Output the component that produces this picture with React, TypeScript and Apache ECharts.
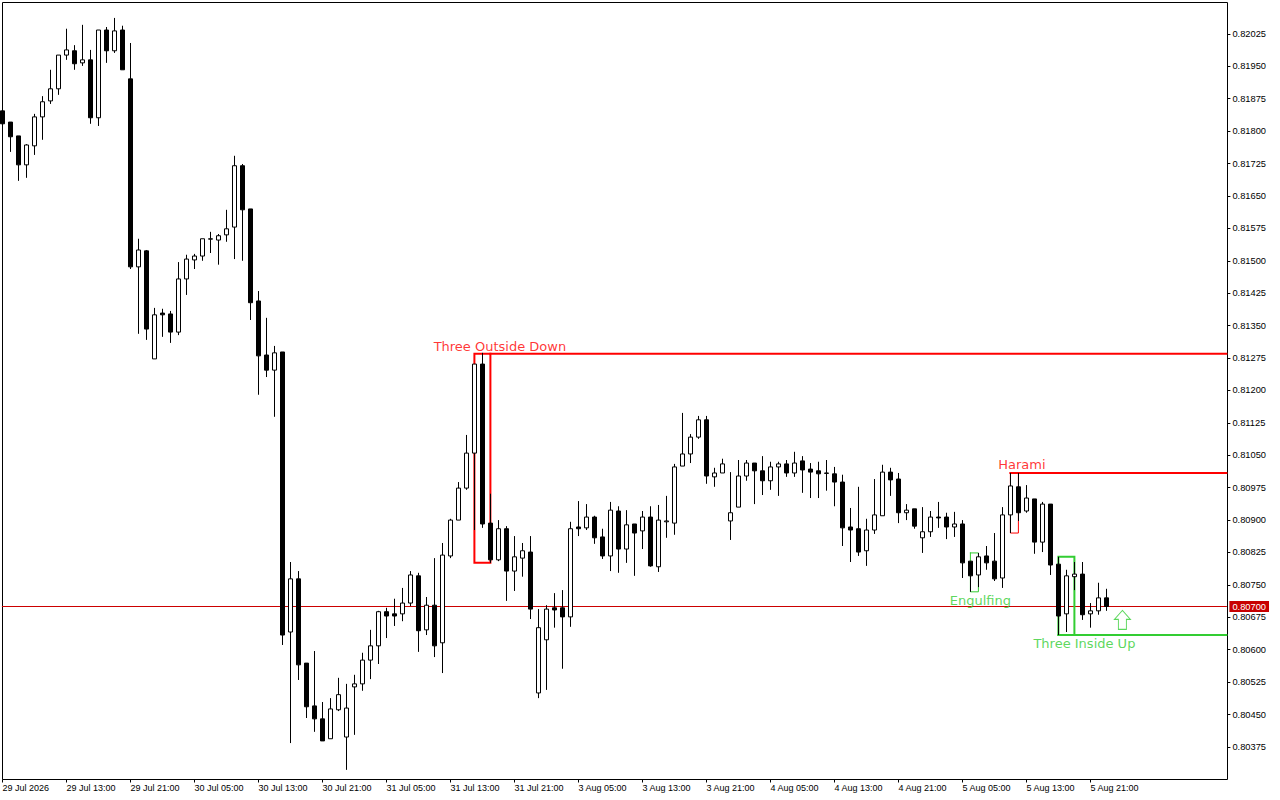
import React, { useEffect, useRef } from "react";
import * as echarts from "echarts";

const tickLabelsX = ["29 Jul 2026","29 Jul 13:00","29 Jul 21:00","30 Jul 05:00","30 Jul 13:00","30 Jul 21:00","31 Jul 05:00","31 Jul 13:00","31 Jul 21:00","3 Aug 05:00","3 Aug 13:00","3 Aug 21:00","4 Aug 05:00","4 Aug 13:00","4 Aug 21:00","5 Aug 05:00","5 Aug 13:00","5 Aug 21:00"];
const tickValuesY = [0.80375,0.8045,0.80525,0.806,0.80675,0.8075,0.80825,0.809,0.80975,0.8105,0.81125,0.812,0.81275,0.8135,0.81425,0.815,0.81575,0.8165,0.81725,0.818,0.81875,0.8195,0.82025];

const opens = [0.81847,0.81821,0.81789,0.81722,0.81766,0.81833,0.81870,0.81898,0.81976,0.81986,0.81958,0.81965,0.81831,0.82034,0.81986,0.82034,0.81921,0.81486,0.81523,0.81273,0.81379,0.81377,0.81335,0.81458,0.81502,0.81511,0.81550,0.81548,0.81560,0.81578,0.81720,0.81620,0.81407,0.81282,0.81247,0.81289,0.80641,0.80764,0.80569,0.80470,0.80440,0.80394,0.80461,0.80398,0.80514,0.80521,0.80576,0.80609,0.80688,0.80683,0.80683,0.80708,0.80771,0.80646,0.80703,0.80616,0.80817,0.80900,0.80974,0.81055,0.81261,0.80893,0.80808,0.80880,0.80782,0.80812,0.80826,0.80500,0.80623,0.80697,0.80697,0.80676,0.80884,0.80882,0.80907,0.80861,0.80817,0.80921,0.80833,0.80891,0.80875,0.80907,0.80792,0.80896,0.80893,0.81025,0.81053,0.81092,0.81132,0.81000,0.81009,0.80898,0.80930,0.81002,0.81032,0.81014,0.80991,0.81023,0.81030,0.81009,0.81037,0.81018,0.81014,0.81008,0.81007,0.80988,0.80884,0.80880,0.80829,0.80877,0.80910,0.81011,0.80995,0.80917,0.80926,0.80859,0.80873,0.80907,0.80907,0.80884,0.80891,0.80805,0.80773,0.80817,0.80805,0.80766,0.80912,0.80977,0.80921,0.80949,0.80849,0.80937,0.80798,0.80683,0.80769,0.80775,0.80683,0.80690,0.80720];
const highs = [0.81847,0.81821,0.81789,0.81770,0.81840,0.81881,0.81942,0.81976,0.82037,0.81999,0.82046,0.81988,0.82034,0.82041,0.82062,0.82044,0.82004,0.81551,0.81525,0.81391,0.81389,0.81384,0.81497,0.81514,0.81516,0.81551,0.81567,0.81562,0.81618,0.81743,0.81724,0.81620,0.81430,0.81368,0.81303,0.81289,0.80803,0.80782,0.80569,0.80597,0.80479,0.80488,0.80535,0.80521,0.80542,0.80593,0.80646,0.80690,0.80697,0.80718,0.80743,0.80782,0.80778,0.80722,0.80812,0.80847,0.80903,0.80988,0.81097,0.81261,0.81287,0.80961,0.80900,0.80886,0.80863,0.80847,0.80863,0.80694,0.80703,0.80731,0.80738,0.80896,0.80944,0.80937,0.80910,0.80880,0.80942,0.80932,0.80923,0.80891,0.80921,0.80932,0.80935,0.80956,0.81030,0.81148,0.81099,0.81141,0.81141,0.81021,0.81042,0.81011,0.81039,0.81039,0.81032,0.81048,0.81035,0.81035,0.81039,0.81058,0.81048,0.81032,0.81035,0.81039,0.81023,0.81005,0.80928,0.80977,0.80903,0.80995,0.81028,0.81021,0.81009,0.80937,0.80926,0.80930,0.80921,0.80942,0.80917,0.80919,0.80900,0.80805,0.80824,0.80840,0.80870,0.80930,0.81009,0.81009,0.80981,0.80949,0.80942,0.80937,0.80815,0.80785,0.80803,0.80803,0.80708,0.80755,0.80741];
const lows = [0.81817,0.81752,0.81685,0.81692,0.81745,0.81780,0.81863,0.81884,0.81965,0.81942,0.81951,0.81817,0.81812,0.81958,0.81981,0.81942,0.81481,0.81331,0.81317,0.81273,0.81324,0.81310,0.81328,0.81421,0.81481,0.81500,0.81518,0.81491,0.81544,0.81504,0.81500,0.81363,0.81190,0.81231,0.81139,0.80611,0.80384,0.80530,0.80442,0.80410,0.80389,0.80394,0.80458,0.80322,0.80403,0.80505,0.80532,0.80567,0.80627,0.80655,0.80666,0.80701,0.80595,0.80634,0.80583,0.80546,0.80812,0.80900,0.80970,0.80877,0.80882,0.80801,0.80805,0.80713,0.80736,0.80769,0.80671,0.80488,0.80507,0.80651,0.80556,0.80653,0.80863,0.80877,0.80845,0.80810,0.80782,0.80778,0.80801,0.80771,0.80833,0.80792,0.80780,0.80859,0.80866,0.81025,0.81032,0.81088,0.80984,0.80977,0.81009,0.80854,0.80930,0.80991,0.80937,0.80958,0.80970,0.80956,0.81000,0.81000,0.80963,0.80951,0.80951,0.80968,0.80932,0.80840,0.80803,0.80817,0.80794,0.80868,0.80910,0.80956,0.80893,0.80900,0.80880,0.80824,0.80861,0.80882,0.80856,0.80861,0.80766,0.80734,0.80745,0.80785,0.80759,0.80743,0.80870,0.80898,0.80917,0.80822,0.80826,0.80773,0.80634,0.80641,0.80738,0.80669,0.80651,0.80681,0.80690];
const closes = [0.81817,0.81787,0.81722,0.81768,0.81833,0.81868,0.81898,0.81976,0.81988,0.81956,0.81965,0.81831,0.82034,0.81986,0.82032,0.81942,0.81486,0.81525,0.81342,0.81375,0.81375,0.81335,0.81458,0.81504,0.81511,0.81551,0.81551,0.81558,0.81574,0.81720,0.81618,0.81403,0.81280,0.81247,0.81287,0.80634,0.80764,0.80565,0.80468,0.80440,0.80389,0.80463,0.80496,0.80465,0.80521,0.80576,0.80609,0.80688,0.80678,0.80678,0.80708,0.80773,0.80644,0.80703,0.80609,0.80819,0.80900,0.80974,0.81055,0.81261,0.80891,0.80808,0.80880,0.80782,0.80815,0.80829,0.80694,0.80651,0.80694,0.80692,0.80676,0.80880,0.80880,0.80907,0.80859,0.80817,0.80923,0.80833,0.80889,0.80870,0.80907,0.80794,0.80900,0.80898,0.81023,0.81053,0.81092,0.81132,0.81002,0.81009,0.81030,0.80917,0.81002,0.81032,0.81014,0.80991,0.81023,0.81030,0.81009,0.81032,0.81016,0.81011,0.81007,0.81009,0.80988,0.80882,0.80877,0.80826,0.80877,0.80912,0.81011,0.80993,0.80917,0.80923,0.80886,0.80873,0.80907,0.80905,0.80884,0.80891,0.80801,0.80771,0.80815,0.80801,0.80764,0.80912,0.80979,0.80917,0.80951,0.80849,0.80937,0.80796,0.80678,0.80771,0.80775,0.80681,0.80690,0.80720,0.80700];

const barCount = 154;
const lastPrice = 0.807;
const RED = "#ff0000";
const GREEN = "#32cd32";

const categories = Array.from({ length: barCount }, (_, i) =>
  i % 8 === 0 && tickLabelsX[i / 8] ? tickLabelsX[i / 8] : `bar ${i}`
);
const tickIndexesX = tickLabelsX.map((_, i) => i * 8);

// pattern outlines: [bar index, price]
const threeOutsideBox = [[59,0.81285],[59,0.80801],[61,0.80801],[61,0.81285],[59,0.81285]];
const threeOutsideLine = [[61,0.81285],[153,0.81285]];
const haramiBox = [[126,0.81009],[126,0.80870],[127,0.80870],[127,0.81009],[126,0.81009]];
const haramiLine = [[126,0.81009],[153,0.81009]];
const engulfingBox = [[121,0.80824],[121,0.80734],[122,0.80734],[122,0.80824],[121,0.80824]];
const threeInsideBox = [[132,0.80815],[132,0.80634],[134,0.80634],[134,0.80815],[132,0.80815]];
const threeInsideLine = [[132,0.80634],[153,0.80634]];
const priceLine = [[0,lastPrice],[153,lastPrice]];
const arrowPoint = [[140,0.80669]];

const patternLabels = [
  { name: "Three Outside Down", at: [62,0.81301], color: RED, dx: 1.5 },
  { name: "Harami", at: [127,0.81028], color: RED, dx: 3.5 },
  { name: "Engulfing", at: [122,0.80715], color: GREEN, dx: 2 },
  { name: "Three Inside Up", at: [135,0.80615], color: GREEN, dx: 2 },
];

const lineSeries = (data: number[][], color: string, width: number) => ({
  type: "line",
  data,
  z: 1,
  silent: true,
  showSymbol: false,
  symbol: "none",
  clip: false,
  animation: false,
  lineStyle: { color, width, join: "miter", cap: "square" },
});

export default function App() {
  const ref = useRef<HTMLDivElement>(null);
  useEffect(() => {
    document.body.style.margin = "0";
    document.body.style.background = "#fff";
    const chart = echarts.init(ref.current!, undefined, { renderer: "svg" });
    const font = "'Liberation Sans', Arial, sans-serif";
    chart.setOption({
      animation: false,
      backgroundColor: "#fff",
      grid: { left: 2.4, top: 2.5, right: 53.6, bottom: 20.5, show: false, outerBoundsMode: "none" },
      graphic: [
        {
          type: "rect",
          z: 0,
          silent: true,
          shape: { x: 2.5, y: 2.5, width: 1225, height: 777 },
          style: { fill: "none", stroke: "#000", lineWidth: 1 },
        },
      ],
      xAxis: {
        type: "category",
        data: categories,
        boundaryGap: false,
        axisLine: { show: false },
        axisTick: { show: true, length: 3, customValues: tickIndexesX, lineStyle: { color: "#000" } },
        axisLabel: { customValues: tickIndexesX, align: "left", margin: 4, fontSize: 9, fontFamily: font, color: "#000", hideOverlap: false },
        splitLine: { show: false },
      },
      yAxis: {
        type: "value",
        position: "right",
        min: 0.802997,
        max: 0.820977,
        scale: true,
        offset: 1,
        axisLine: { show: false },
        axisTick: { show: true, length: 3, customValues: tickValuesY, lineStyle: { color: "#000" } },
        axisLabel: {
          customValues: tickValuesY, margin: 5, fontSize: 9.3, fontFamily: font, color: "#000",
          formatter: (v: number) => v.toFixed(5),
        },
        splitLine: { show: false },
      },
      series: [
        {
          ...lineSeries(priceLine, "#cc0000", 1),
          endLabel: {
            show: true,
            formatter: () => lastPrice.toFixed(5),
            backgroundColor: "#c80000",
            color: "#fff",
            fontSize: 9.3,
            fontFamily: font,
            padding: [1, 3, 1, 3],
            distance: 3,
          },
        },
        lineSeries(threeOutsideBox, RED, 2),
        lineSeries(threeOutsideLine, RED, 2),
        lineSeries(haramiBox, RED, 1),
        lineSeries(haramiLine, RED, 2),
        lineSeries(engulfingBox, GREEN, 1),
        lineSeries(threeInsideBox, GREEN, 2),
        lineSeries(threeInsideLine, GREEN, 2),
        {
          type: "candlestick",
          z: 2,
          barWidth: 4,
          data: opens.map((o, i) => [o, closes[i], lows[i], highs[i]]),
          itemStyle: {
            color: "#fff", color0: "#000", borderColor: "#000", borderColor0: "#000", borderColorDoji: "#000", borderWidth: 1,
          },
        },
        ...patternLabels.map((p) => ({
          type: "scatter",
          z: 3,
          silent: true,
          symbolSize: 1,
          itemStyle: { color: "transparent" },
          data: [p.at],
          label: {
            show: true, position: "inside", align: "center", verticalAlign: "middle",
            offset: [p.dx, 0],
            formatter: () => p.name, color: p.color, fontSize: 13, fontFamily: "'DejaVu Sans', sans-serif",
          },
        })),
        {
          type: "scatter",
          z: 3,
          silent: true,
          data: arrowPoint,
          symbol: "path://M8 0L16 9H12V19H4V9H0Z",
          symbolSize: [16, 19],
          itemStyle: { color: "#fff", borderColor: GREEN, borderWidth: 1 },
        },
      ],
    });
    return () => chart.dispose();
  }, []);
  return <div ref={ref} style={{ width: 1280, height: 800 }} />;
}
